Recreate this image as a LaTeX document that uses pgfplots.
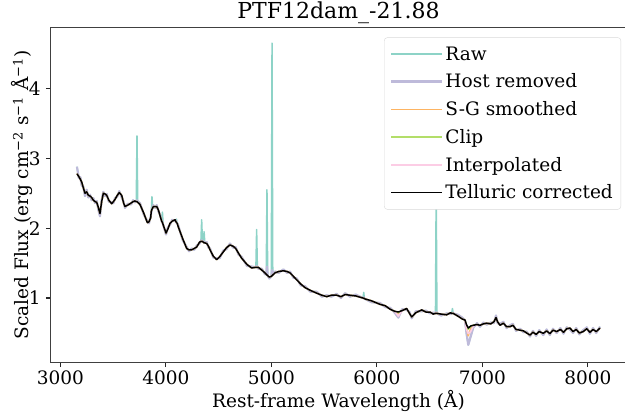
\documentclass[border=0pt]{standalone}
\usepackage{fontspec}
\setmainfont{DejaVu Serif}
\usepackage{pgfplots}
\usepackage{pgfplotstable}
\pgfplotsset{compat=1.18}
\definecolor{cRaw}{HTML}{8DD3C7}
\definecolor{cHost}{HTML}{BEBADA}
\definecolor{cSG}{HTML}{FDB462}
\definecolor{cClip}{HTML}{B3DE69}
\definecolor{cInterp}{HTML}{FCCDE5}
\pgfplotstableread{
wl raw host sg clip interp tell
3158 2.88 2.88 2.78 2.78 2.78 2.78
3175 2.72 2.72 2.74 2.74 2.74 2.74
3190 2.73 2.73 2.70 2.70 2.70 2.70
3203 2.61 2.61 2.66 2.66 2.66 2.66
3218 2.60 2.60 2.58 2.58 2.58 2.58
3234 2.46 2.46 2.50 2.50 2.50 2.50
3250 2.55 2.55 2.52 2.52 2.52 2.52
3266 2.44 2.44 2.47 2.47 2.47 2.47
3282 2.48 2.48 2.46 2.46 2.46 2.46
3297 2.40 2.40 2.44 2.44 2.44 2.44
3313 2.43 2.43 2.40 2.40 2.40 2.40
3330 2.36 2.36 2.38 2.38 2.38 2.38
3345 2.39 2.39 2.37 2.37 2.37 2.37
3360 2.27 2.27 2.30 2.30 2.30 2.30
3376 2.17 2.17 2.21 2.21 2.21 2.21
3392 2.40 2.40 2.38 2.38 2.38 2.38
3408 2.52 2.52 2.50 2.50 2.50 2.50
3424 2.46 2.46 2.49 2.49 2.49 2.49
3440 2.49 2.49 2.47 2.47 2.47 2.47
3460 2.38 2.38 2.40 2.40 2.40 2.40
3487 2.37 2.37 2.35 2.35 2.35 2.35
3503 2.36 2.36 2.38 2.38 2.38 2.38
3518 2.43 2.43 2.41 2.41 2.41 2.41
3540 2.45 2.45 2.47 2.47 2.47 2.47
3559 2.53 2.53 2.51 2.51 2.51 2.51
3582 2.44 2.44 2.47 2.47 2.47 2.47
3600 2.38 2.38 2.36 2.36 2.36 2.36
3613 2.29 2.29 2.31 2.31 2.31 2.31
3640 2.35 2.35 2.33 2.33 2.33 2.33
3671 2.34 2.34 2.36 2.36 2.36 2.36
3690 2.40 2.40 2.38 2.38 2.38 2.38
3708 2.37 2.37 2.39 2.39 2.39 2.39
3720 2.39 2.39 2.38 2.38 2.38 2.38
3727 3.32 2.40 2.38 2.38 2.38 2.38
3734 2.39 2.38 2.37 2.37 2.37 2.37
3755 2.36 2.36 2.34 2.34 2.34 2.34
3790 2.20 2.20 2.22 2.22 2.22 2.22
3825 2.10 2.10 2.08 2.08 2.08 2.08
3840 2.07 2.07 2.09 2.09 2.09 2.09
3857 2.17 2.17 2.15 2.15 2.15 2.15
3862 2.22 2.22 2.24 2.24 2.24 2.24
3869 2.45 2.27 2.27 2.27 2.27 2.27
3876 2.30 2.30 2.29 2.29 2.29 2.29
3882 2.33 2.33 2.31 2.31 2.31 2.31
3900 2.29 2.29 2.31 2.31 2.31 2.31
3914 2.33 2.33 2.31 2.31 2.31 2.31
3930 2.24 2.24 2.26 2.26 2.26 2.26
3945 2.20 2.20 2.18 2.18 2.18 2.18
3961 2.10 2.10 2.10 2.10 2.10 2.10
3968 2.23 2.08 2.08 2.08 2.08 2.08
3975 2.05 2.05 2.05 2.05 2.05 2.05
4002 1.91 1.91 1.93 1.93 1.93 1.93
4020 2.01 2.01 1.99 1.99 1.99 1.99
4040 2.05 2.05 2.07 2.07 2.07 2.07
4060 2.12 2.12 2.10 2.10 2.10 2.10
4088 2.10 2.10 2.12 2.12 2.12 2.12
4094 2.11 2.11 2.10 2.10 2.10 2.10
4101 2.13 2.08 2.08 2.08 2.08 2.08
4108 2.07 2.07 2.07 2.07 2.07 2.07
4118 2.04 2.04 2.02 2.02 2.02 2.02
4160 1.83 1.83 1.85 1.85 1.85 1.85
4198 1.73 1.73 1.71 1.71 1.71 1.71
4220 1.67 1.67 1.69 1.69 1.69 1.69
4245 1.71 1.71 1.69 1.69 1.69 1.69
4270 1.69 1.69 1.71 1.71 1.71 1.71
4293 1.75 1.75 1.73 1.73 1.73 1.73
4320 1.78 1.78 1.80 1.80 1.80 1.80
4333 1.82 1.82 1.81 1.81 1.81 1.81
4340 2.12 1.83 1.81 1.81 1.81 1.81
4347 1.82 1.82 1.81 1.81 1.81 1.81
4356 1.80 1.80 1.80 1.80 1.80 1.80
4363 1.95 1.81 1.79 1.79 1.79 1.79
4370 1.79 1.79 1.79 1.79 1.79 1.79
4388 1.80 1.80 1.78 1.78 1.78 1.78
4405 1.72 1.72 1.74 1.74 1.74 1.74
4419 1.71 1.71 1.69 1.69 1.69 1.69
4450 1.58 1.58 1.60 1.60 1.60 1.60
4482 1.57 1.57 1.55 1.55 1.55 1.55
4510 1.57 1.57 1.59 1.59 1.59 1.59
4545 1.68 1.68 1.66 1.66 1.66 1.66
4575 1.70 1.70 1.72 1.72 1.72 1.72
4608 1.78 1.78 1.76 1.76 1.76 1.76
4640 1.72 1.72 1.74 1.74 1.74 1.74
4662 1.73 1.73 1.71 1.71 1.71 1.71
4690 1.62 1.62 1.64 1.64 1.64 1.64
4719 1.59 1.59 1.57 1.57 1.57 1.57
4770 1.46 1.46 1.48 1.48 1.48 1.48
4814 1.45 1.45 1.43 1.43 1.43 1.43
4854 1.44 1.44 1.44 1.44 1.44 1.44
4861 1.98 1.46 1.44 1.44 1.44 1.44
4868 1.44 1.44 1.44 1.44 1.44 1.44
4877 1.42 1.42 1.44 1.44 1.44 1.44
4910 1.42 1.42 1.40 1.40 1.40 1.40
4940 1.34 1.34 1.36 1.36 1.36 1.36
4952 1.34 1.34 1.34 1.34 1.34 1.34
4959 2.55 1.45 1.33 1.33 1.33 1.33
4966 1.32 1.32 1.32 1.32 1.32 1.32
4981 1.28 1.28 1.30 1.30 1.30 1.30
5000 1.31 1.31 1.31 1.31 1.31 1.31
5007 4.65 1.40 1.32 1.32 1.32 1.32
5014 1.33 1.33 1.33 1.33 1.33 1.33
5035 1.38 1.38 1.36 1.36 1.36 1.36
5070 1.36 1.36 1.38 1.38 1.38 1.38
5114 1.41 1.41 1.39 1.39 1.39 1.39
5150 1.36 1.36 1.38 1.38 1.38 1.38
5177 1.38 1.38 1.36 1.36 1.36 1.36
5210 1.29 1.29 1.31 1.31 1.31 1.31
5241 1.28 1.28 1.26 1.26 1.26 1.26
5280 1.18 1.18 1.20 1.20 1.20 1.20
5319 1.17 1.17 1.15 1.15 1.15 1.15
5370 1.09 1.09 1.11 1.11 1.11 1.11
5430 1.09 1.09 1.07 1.07 1.07 1.07
5480 1.02 1.02 1.04 1.04 1.04 1.04
5525 1.04 1.04 1.02 1.02 1.02 1.02
5570 1.02 1.02 1.04 1.04 1.04 1.04
5620 1.06 1.06 1.04 1.04 1.04 1.04
5660 1.00 1.00 1.02 1.02 1.02 1.02
5700 1.07 1.07 1.05 1.05 1.05 1.05
5746 1.02 1.02 1.04 1.04 1.04 1.04
5800 1.05 1.05 1.03 1.03 1.03 1.03
5869 1.00 1.00 1.00 1.00 1.00 1.00
5876 1.08 1.01 1.00 1.00 1.00 1.00
5883 0.99 0.99 0.99 0.99 0.99 0.99
5950 0.94 0.94 0.96 0.96 0.96 0.96
6030 0.93 0.93 0.91 0.91 0.91 0.91
6080 0.87 0.87 0.89 0.89 0.89 0.89
6126 0.86 0.86 0.84 0.84 0.84 0.84
6170 0.79 0.79 0.81 0.81 0.81 0.81
6204 0.72 0.72 0.78 0.79 0.74 0.80
6240 0.84 0.84 0.82 0.82 0.82 0.82
6283 0.83 0.83 0.85 0.85 0.85 0.85
6310 0.80 0.80 0.78 0.78 0.78 0.78
6331 0.71 0.71 0.73 0.73 0.73 0.73
6370 0.81 0.81 0.79 0.79 0.79 0.79
6426 0.81 0.81 0.83 0.83 0.83 0.83
6465 0.82 0.82 0.80 0.80 0.80 0.80
6504 0.78 0.78 0.80 0.80 0.80 0.80
6535 0.79 0.79 0.77 0.77 0.77 0.77
6556 0.78 0.78 0.78 0.78 0.78 0.78
6563 2.57 0.80 0.78 0.78 0.78 0.78
6570 0.78 0.78 0.78 0.78 0.78 0.78
6610 0.75 0.75 0.77 0.77 0.77 0.77
6662 0.78 0.78 0.76 0.76 0.76 0.76
6700 0.77 0.77 0.79 0.79 0.79 0.79
6710 0.78 0.78 0.78 0.78 0.78 0.78
6717 0.85 0.79 0.78 0.78 0.78 0.78
6724 0.78 0.78 0.78 0.78 0.78 0.78
6770 0.76 0.76 0.74 0.74 0.74 0.74
6810 0.72 0.72 0.70 0.70 0.70 0.70
6836 0.68 0.68 0.685 0.685 0.685 0.685
6850 0.50 0.50 0.58 0.60 0.55 0.62
6867 0.33 0.33 0.46 0.55 0.49 0.57
6890 0.45 0.45 0.56 0.59 0.52 0.60
6915 0.58 0.58 0.61 0.61 0.60 0.61
6950 0.64 0.64 0.62 0.62 0.62 0.62
6978 0.59 0.59 0.61 0.61 0.61 0.61
7010 0.65 0.65 0.63 0.63 0.63 0.63
7042 0.62 0.62 0.64 0.64 0.64 0.64
7080 0.65 0.65 0.63 0.63 0.63 0.63
7110 0.64 0.64 0.66 0.66 0.66 0.66
7130 0.75 0.75 0.72 0.72 0.72 0.72
7145 0.64 0.64 0.66 0.66 0.66 0.66
7168 0.63 0.63 0.61 0.61 0.61 0.61
7200 0.66 0.66 0.64 0.64 0.64 0.64
7230 0.57 0.57 0.59 0.59 0.59 0.59
7263 0.61 0.61 0.59 0.59 0.59 0.59
7290 0.63 0.63 0.61 0.61 0.61 0.61
7320 0.53 0.53 0.55 0.55 0.55 0.55
7358 0.56 0.56 0.54 0.54 0.54 0.54
7390 0.51 0.51 0.53 0.53 0.53 0.53
7420 0.52 0.52 0.50 0.50 0.50 0.50
7452 0.45 0.45 0.47 0.47 0.47 0.47
7480 0.53 0.53 0.51 0.51 0.51 0.51
7510 0.46 0.46 0.48 0.48 0.48 0.48
7540 0.54 0.54 0.52 0.52 0.52 0.52
7578 0.47 0.47 0.495 0.495 0.495 0.495
7610 0.55 0.55 0.53 0.53 0.53 0.53
7640 0.47 0.47 0.49 0.49 0.49 0.49
7670 0.56 0.56 0.54 0.54 0.54 0.54
7705 0.50 0.50 0.52 0.52 0.52 0.52
7740 0.57 0.57 0.55 0.55 0.55 0.55
7770 0.49 0.49 0.51 0.51 0.51 0.51
7800 0.58 0.58 0.56 0.56 0.56 0.56
7831 0.55 0.55 0.57 0.57 0.57 0.57
7860 0.50 0.50 0.52 0.52 0.52 0.52
7890 0.57 0.57 0.55 0.55 0.55 0.55
7920 0.48 0.48 0.50 0.50 0.50 0.50
7957 0.54 0.54 0.52 0.52 0.52 0.52
7990 0.58 0.58 0.56 0.56 0.56 0.56
8020 0.49 0.49 0.51 0.51 0.51 0.51
8050 0.57 0.57 0.55 0.55 0.55 0.55
8080 0.50 0.50 0.52 0.52 0.52 0.52
8116 0.59 0.59 0.57 0.57 0.57 0.57
}\spec
\begin{document}
\begin{tikzpicture}
\path[use as bounding box] (-50.7pt,-53.7pt) rectangle (574.3pt,362.3pt);
\begin{axis}[
  at={(0pt,0pt)}, anchor=south west,
  scale only axis, width=575.5pt, height=334.6pt,
  xmin=2909, xmax=8364, ymin=0.08, ymax=4.87,
  xtick={3000,4000,5000,6000,7000,8000},
  ytick={1,2,3,4},
  xtick pos=lower, ytick pos=left,
  tick align=outside, major tick length=4.9pt,
  tick style={black!85, line width=1.1pt},
  axis line style={black!75, line width=1.1pt},
  /pgf/number format/assume math mode=true,
  /pgf/number format/1000 sep={},
  ticklabel style={font=\fontsize{18.5}{20}\selectfont},
  yticklabel style={xshift=-1.5pt},
  title={PTF12dam\_-21.88},
  title style={at={(axis description cs:0.5,1)}, anchor=base, yshift=3pt, font=\fontsize{22}{24}\selectfont},
  xlabel={Rest-frame Wavelength (Å)},
  xlabel style={at={(axis description cs:0.5,-0.1336)}, anchor=base, font=\fontsize{18.5}{20}\selectfont},
  ylabel={Scaled Flux (erg cm\textsuperscript{−2} s\textsuperscript{−1} Å\textsuperscript{−1})},
  ylabel style={at={(axis description cs:-0.038,0.5)}, anchor=base, font=\fontsize{18.5}{20}\selectfont},
  legend style={at={(0.991,0.971)}, anchor=north east, draw=black!15, rounded corners=3pt,
    fill=white, font=\fontsize{18.5}{20}\selectfont,
    row sep=8.2pt, inner xsep=6pt, inner ysep=7pt, cells={anchor=west}},
  legend image code/.code={\draw[#1, line width=1.3pt] (0pt,0pt) -- (39pt,0pt); \path (0pt,0pt) -- (51pt,0pt);},
  every axis plot/.append style={line width=1.5pt, line join=round},
]
\addplot[color=cRaw, no markers] table[x=wl, y=raw] {\spec};
\addlegendentry{Raw}
\addplot[color=cHost, no markers, line width=2.2pt] table[x=wl, y=host] {\spec};
\addlegendentry{Host removed}
\addplot[color=cSG, no markers] table[x=wl, y=sg] {\spec};
\addlegendentry{S-G smoothed}
\addplot[color=cClip, no markers] table[x=wl, y=clip] {\spec};
\addlegendentry{Clip}
\addplot[color=cInterp, no markers] table[x=wl, y=interp] {\spec};
\addlegendentry{Interpolated}
\addplot[color=black, no markers] table[x=wl, y=tell] {\spec};
\addlegendentry{Telluric corrected}
\end{axis}
\end{tikzpicture}
\end{document}
